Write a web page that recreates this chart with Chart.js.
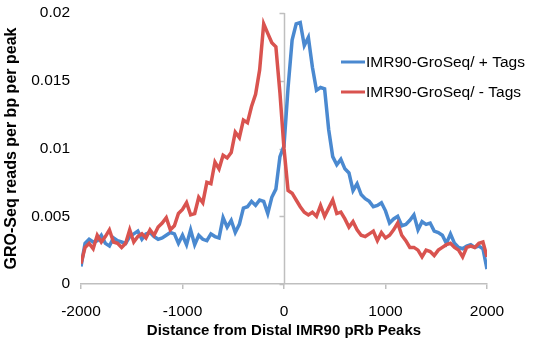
<!DOCTYPE html>
<html>
<head>
<meta charset="utf-8">
<style>
  html, body { margin: 0; padding: 0; background: #ffffff; }
  #wrap { width: 535px; height: 346px; }
</style>
<script src="https://cdn.jsdelivr.net/npm/chart.js@4.4.1/dist/chart.umd.min.js"></script>
</head>
<body>
<div id="wrap"><canvas id="chart" width="535" height="346"></canvas></div>
<script>
// Distance bins (bp) relative to the distal pRb peak centre
const distances = [
  -2000, -1960, -1920, -1880, -1840, -1800, -1760, -1720, -1680, -1640,
  -1600, -1560, -1520, -1480, -1440, -1400, -1360, -1320, -1280, -1240,
  -1200, -1160, -1120, -1080, -1040, -1000, -960, -920, -880, -840,
  -800, -760, -720, -680, -640, -600, -560, -520, -480, -440,
  -400, -360, -320, -280, -240, -200, -160, -120, -80, -40,
  0, 40, 80, 120, 160, 200, 240, 280, 320, 360,
  400, 440, 480, 520, 560, 600, 640, 680, 720, 760,
  800, 840, 880, 920, 960, 1000, 1040, 1080, 1120, 1160,
  1200, 1240, 1280, 1320, 1360, 1400, 1440, 1480, 1520, 1560,
  1600, 1640, 1680, 1720, 1760, 1800, 1840, 1880, 1920, 1960,
  2000
];

// Reads per bp per peak, plus-strand tags
const plusTags = [
  0.0013, 0.0030, 0.0033, 0.0031, 0.0032, 0.0036, 0.0030, 0.0028, 0.0034, 0.0032,
  0.0031, 0.0030, 0.0035, 0.0037, 0.0039, 0.0033, 0.0037, 0.0038, 0.0035, 0.0033,
  0.0034, 0.0036, 0.0038, 0.0037, 0.0030, 0.0036, 0.0029, 0.0040, 0.0029, 0.0036,
  0.0033, 0.0032, 0.0037, 0.0035, 0.0034, 0.0049, 0.0042, 0.0047, 0.0038, 0.0044,
  0.0056, 0.0057, 0.0061, 0.0058, 0.0062, 0.0061, 0.0052, 0.0064, 0.0070, 0.0094,
  0.0102, 0.0145, 0.0180, 0.0192, 0.0193, 0.0176, 0.0182, 0.0160, 0.0143, 0.0145,
  0.0144, 0.0114, 0.0094, 0.0088, 0.0092, 0.0085, 0.0082, 0.0069, 0.0074, 0.0066,
  0.0063, 0.0061, 0.0057, 0.0058, 0.0060, 0.0054, 0.0045, 0.0048, 0.0050, 0.0043,
  0.0044, 0.0047, 0.0051, 0.0040, 0.0046, 0.0044, 0.0045, 0.0039, 0.0038, 0.0036,
  0.0030, 0.0037, 0.0030, 0.0027, 0.0026, 0.0028, 0.0029, 0.0027, 0.0028, 0.0026,
  0.0011
];

// Reads per bp per peak, minus-strand tags
const minusTags = [
  0.0015, 0.0027, 0.0030, 0.0026, 0.0036, 0.0031, 0.0035, 0.0040, 0.0031, 0.0030,
  0.0027, 0.0030, 0.0040, 0.0031, 0.0035, 0.0037, 0.0034, 0.0040, 0.0036, 0.0042,
  0.0045, 0.0049, 0.0040, 0.0043, 0.0052, 0.0055, 0.0060, 0.0051, 0.0052, 0.0064,
  0.0060, 0.0075, 0.0074, 0.0090, 0.0085, 0.0095, 0.0093, 0.0097, 0.0112, 0.0108,
  0.0121, 0.0119, 0.0131, 0.0140, 0.0158, 0.0192, 0.0185, 0.0178, 0.0175, 0.0141,
  0.0100, 0.0069, 0.0067, 0.0062, 0.0057, 0.0053, 0.0051, 0.0053, 0.0050, 0.0058,
  0.0050, 0.0056, 0.0062, 0.0052, 0.0053, 0.0048, 0.0042, 0.0046, 0.0040, 0.0036,
  0.0035, 0.0037, 0.0039, 0.0032, 0.0038, 0.0034, 0.0036, 0.0040, 0.0045, 0.0036,
  0.0032, 0.0027, 0.0027, 0.0025, 0.0020, 0.0025, 0.0024, 0.0021, 0.0025, 0.0027,
  0.0029, 0.0030, 0.0027, 0.0025, 0.0020, 0.0027, 0.0028, 0.0027, 0.0030, 0.0031,
  0.0020
];

const seriesNames = ['IMR90-GroSeq/ + Tags', 'IMR90-GroSeq/ - Tags'];
const seriesColors = ['#4a89d0', '#d9534f'];
const xTickValues = [-2000, -1000, 0, 1000, 2000];
const yTickLabels = ['0', '0.005', '0.01', '0.015', '0.02'];

const AXIS_GREY = '#bfbfbf';
const FONT = '"Liberation Sans", Arial, sans-serif';

function toPoints(values) {
  return values.map((v, i) => ({ x: distances[i], y: v }));
}

// Vertical axis through x = 0 with small tick marks on its left side
const zeroAxis = {
  id: 'zeroAxis',
  beforeDatasetsDraw(chart) {
    const { ctx, scales: { x, y } } = chart;
    const px = Math.round(x.getPixelForValue(0)) + 0.5;
    ctx.save();
    ctx.strokeStyle = AXIS_GREY;
    ctx.lineWidth = 1.5;
    ctx.beginPath();
    ctx.moveTo(px, y.getPixelForValue(0.02));
    ctx.lineTo(px, y.getPixelForValue(0));
    y.ticks.forEach(t => {
      const py = Math.round(y.getPixelForValue(t.value)) + 0.5;
      ctx.moveTo(px - 5, py);
      ctx.lineTo(px, py);
    });
    ctx.stroke();
    ctx.restore();
  }
};

// Legend drawn inside the plot area, top right
const insideLegend = {
  id: 'insideLegend',
  afterDraw(chart) {
    const { ctx } = chart;
    const rows = [62, 92];
    ctx.save();
    ctx.font = '15.5px ' + FONT;
    ctx.textBaseline = 'middle';
    ctx.textAlign = 'left';
    chart.data.datasets.slice().sort((a, b) => a.legendIndex - b.legendIndex).forEach((ds, i) => {
      const yRow = rows[i];
      ctx.strokeStyle = ds.borderColor;
      ctx.lineWidth = 3;
      ctx.beginPath();
      ctx.moveTo(341, yRow);
      ctx.lineTo(365, yRow);
      ctx.stroke();
      ctx.fillStyle = '#000000';
      ctx.fillText(ds.label, 366, yRow + 1);
    });
    ctx.restore();
  }
};

new Chart(document.getElementById('chart'), {
  type: 'line',
  data: {
    datasets: [
      {
        label: seriesNames[0],
        legendIndex: 0,
        data: toPoints(plusTags),
        borderColor: seriesColors[0],
        borderWidth: 3.5,
        pointRadius: 0,
        tension: 0,
        order: 1
      },
      {
        label: seriesNames[1],
        legendIndex: 1,
        data: toPoints(minusTags),
        borderColor: seriesColors[1],
        borderWidth: 3.5,
        pointRadius: 0,
        tension: 0,
        order: 0
      }
    ]
  },
  options: {
    responsive: false,
    animation: false,
    devicePixelRatio: 1,
    layout: { padding: { top: 13, right: 48, left: 0, bottom: 0 } },
    plugins: {
      legend: { display: false },
      tooltip: { enabled: false }
    },
    scales: {
      x: {
        type: 'linear',
        min: -2000,
        max: 2000,
        afterFit(scale) { scale.height = 62; },
        afterBuildTicks(scale) { scale.ticks = xTickValues.map(v => ({ value: v })); },
        ticks: {
          color: '#000000',
          font: { family: FONT, size: 15.5 },
          padding: 13,
          maxRotation: 0,
          callback: v => String(v)
        },
        grid: {
          display: true,
          drawOnChartArea: false,
          drawTicks: true,
          tickLength: 5,
          color: AXIS_GREY,
          lineWidth: 1.5
        },
        border: { display: true, color: AXIS_GREY, width: 1.5 },
        title: {
          display: true,
          text: 'Distance from Distal IMR90 pRb Peaks',
          color: '#000000',
          font: { family: FONT, size: 15, weight: 'bold' },
          padding: { top: 0, bottom: 6 }
        }
      },
      y: {
        type: 'linear',
        position: 'left',
        min: 0,
        max: 0.02,
        afterFit(scale) {
          scale.width = 81;
          scale.paddingTop = 0;
          scale.paddingBottom = 0;
        },
        ticks: {
          stepSize: 0.005,
          color: '#000000',
          font: { family: FONT, size: 15.5 },
          padding: 11,
          callback: (v, i) => yTickLabels[i]
        },
        grid: { display: false, drawTicks: false },
        border: { display: false },
        title: {
          display: true,
          text: 'GRO-Seq reads per bp per peak',
          color: '#000000',
          font: { family: FONT, size: 16, weight: 'bold' },
          padding: { top: 2, bottom: 0 }
        }
      }
    }
  },
  plugins: [zeroAxis, insideLegend]
});
</script>
</body>
</html>
